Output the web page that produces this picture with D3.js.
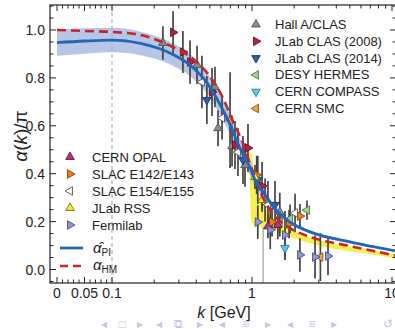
<!DOCTYPE html>
<html><head><meta charset="utf-8">
<script src="https://cdn.jsdelivr.net/npm/d3@7"></script>
<style>
body{margin:0;background:#fff;}
svg{display:block;font-family:"Liberation Sans",Arial,Helvetica,sans-serif;}
</style>
</head><body><svg id="c" width="395" height="329"></svg>
<script>
// ---- curves ----
const piK   = [0, 0.05, 0.1, 0.16, 0.27, 0.36, 0.48, 0.62, 0.7, 0.82, 0.97, 1.05, 1.2, 1.42, 1.87, 2.6, 5.0, 10.7];
const piVal = [0.947, 0.954, 0.958, 0.944, 0.899, 0.854, 0.777, 0.666, 0.603, 0.507, 0.424, 0.374, 0.324, 0.261, 0.198, 0.157, 0.115, 0.077];
const piErr = [0.055, 0.053, 0.051, 0.049, 0.047, 0.046, 0.044, 0.042, 0.04, 0.038, 0.033, 0.029, 0.022, 0.015, 0.01, 0.007, 0.005, 0.004];
const hmK   = [0, 0.05, 0.1, 0.16, 0.27, 0.36, 0.48, 0.62, 0.73, 0.86, 0.98, 1.18, 1.38, 1.87, 2.6, 5.0, 10.7];
const hmVal = [1.0, 0.996, 0.992, 0.979, 0.930, 0.889, 0.820, 0.716, 0.620, 0.528, 0.432, 0.307, 0.240, 0.173, 0.136, 0.098, 0.058];
// yellow systematic band
const ybK  = [0.96, 0.99, 1.04, 1.1, 1.2, 1.35, 1.6, 2.0, 2.6, 4.0, 6.0, 10.7];
const ybLo = [0.44, 0.20, 0.18, 0.18, 0.18, 0.17, 0.15, 0.13, 0.11, 0.085, 0.07, 0.045];
const ybHi = [0.49, 0.49, 0.40, 0.30, 0.27, 0.23, 0.19, 0.16, 0.135, 0.105, 0.088, 0.063];

// ---- data sets: [k, value, error] ----
const hallA   = [[0.231,0.946,0.07],[0.405,0.854,0.08],[0.544,0.762,0.085],[0.572,0.59,0.075],[0.72,0.515,0.085],[0.891,0.436,0.09],[1.24,0.29,0.09],[1.58,0.24,0.08]];
const clas08  = [[0.273,0.99,0.088],[0.321,0.908,0.088],[0.361,0.866,0.09],[0.518,0.741,0.1],[0.756,0.52,0.1],[0.936,0.507,0.1],[1.18,0.349,0.1]];
const clas14  = [[0.476,0.708,0.1],[0.862,0.457,0.1],[1.10,0.374,0.1],[1.46,0.27,0.1]];
const hermes  = [[2.47,0.248,0.04],[1.87,0.211,0.06],[1.58,0.198,0.06]];
const compass = [[1.72,0.09,0.05]];
const smc     = [[0.697,0.624,0.2],[3.08,0.052,0.1]];
const opal    = [[1.53,0.186,0.06],[1.3,0.18,0.05]];
const e142    = [[1.39,0.198,0.06],[2.20,0.223,0.05],[1.84,0.19,0.06],[1.08,0.395,0.08]];
const e154    = [[0.439,0.783,0.11],[0.611,0.633,0.09],[0.794,0.49,0.1],[1.30,0.27,0.1],[2.03,0.236,0.08]];
const rss     = [[1.05,0.386,0.05],[1.18,0.29,0.05]];
const fermi   = [[1.10,0.198,0.07],[1.35,0.165,0.08],[1.72,0.144,0.1],[2.20,0.061,0.07],[2.82,0.052,0.09],[3.49,0.056,0.08]];
const longBars = [[1.2,-0.07,0.18]];

// ---- tick labels ----
const yMajor = [0, 0.2, 0.4, 0.6, 0.8, 1.0];
const yLabels = ["0.0","0.2","0.4","0.6","0.8","1.0"];
const xMajor = [0, 0.05, 0.1, 1, 10];
const xLabels = ["0","0.05","0.1","1","10"];

const series = [
  {name:"Hall A/CLAS", data:hallA, fill:"#8c8c8c", stroke:"#555", rot:0, leg:1},
  {name:"JLab CLAS (2008)", data:clas08, fill:"#b3233f", stroke:"#6a1020", rot:90, leg:1},
  {name:"JLab CLAS (2014)", data:clas14, fill:"#2f5fa8", stroke:"#1a3566", rot:180, leg:1},
  {name:"DESY HERMES", data:hermes, fill:"#a2d48e", stroke:"#4f7a40", rot:-90, leg:1},
  {name:"CERN COMPASS", data:compass, fill:"#5cc8f0", stroke:"#2a7aa0", rot:180, leg:1},
  {name:"CERN SMC", data:smc, fill:"#eaa443", stroke:"#8a5a1a", rot:-90, leg:1},
  {name:"CERN OPAL", data:opal, fill:"#b0397f", stroke:"#60183f", rot:0, leg:2},
  {name:"SLAC E142/E143", data:e142, fill:"#f07a22", stroke:"#8a4010", rot:90, leg:2},
  {name:"SLAC E154/E155", data:e154, fill:"#ffffff", stroke:"#555", rot:-90, leg:2},
  {name:"JLab RSS", data:rss, fill:"#f5e733", stroke:"#807010", rot:0, leg:2},
  {name:"Fermilab", data:fermi, fill:"#9096d2", stroke:"#4a4f80", rot:90, leg:2}
];

const svg = d3.select("#c");
const L = 50, R = 396, T = 5, B = 283;
const xLin = d3.scaleLinear().domain([0, 0.1]).range([57, 112]);
const xLog = d3.scaleLog().domain([0.1, 10]).range([112, 392]);
const X = k => k <= 0.1 ? xLin(k) : xLog(k);
const Y = d3.scaleLinear().domain([0, 1]).range([269.5, 30]);

svg.append("defs").append("clipPath").attr("id","clip")
  .append("rect").attr("x",L).attr("y",T).attr("width",R-L).attr("height",B-T);
const plot = svg.append("g").attr("clip-path","url(#clip)");

// vertical dashed line at k = 0.1
plot.append("line").attr("x1",X(0.1)).attr("x2",X(0.1)).attr("y1",T).attr("y2",B)
  .attr("stroke","#a0a0a0").attr("stroke-width",1).attr("stroke-dasharray","4,3");

// yellow band
const yb = ybK.map((k,i)=>({k, lo:ybLo[i], hi:ybHi[i]}));
plot.append("path").datum(yb)
  .attr("d", d3.area().x(d=>X(d.k)).y0(d=>Y(d.lo)).y1(d=>Y(d.hi)).curve(d3.curveMonotoneX))
  .attr("fill","#f7ec3a").attr("opacity",0.9);

// blue band
const pi = piK.map((k,i)=>({k, v:piVal[i], e:piErr[i]}));
plot.append("path").datum(pi)
  .attr("d", d3.area().x(d=>X(d.k)).y0(d=>Y(d.v-d.e)).y1(d=>Y(d.v+d.e)).curve(d3.curveMonotoneX))
  .attr("fill","#9fb2de").attr("opacity",0.75);

// long thin bars
longBars.forEach(b=>{
  plot.append("line").attr("x1",X(b[0])).attr("x2",X(b[0])).attr("y1",Y(b[1])).attr("y2",Y(b[2]))
    .attr("stroke","#8a8a8a").attr("stroke-width",1);
});

// error bars
series.forEach(s=>{
  plot.append("g").selectAll("line").data(s.data).join("line")
    .attr("x1",d=>X(d[0])).attr("x2",d=>X(d[0]))
    .attr("y1",d=>Y(d[1]-d[2])).attr("y2",d=>Y(d[1]+d[2]))
    .attr("stroke","#444").attr("stroke-width",1.7);
});
// markers
const tri = d3.symbol().type(d3.symbolTriangle).size(32);
series.forEach(s=>{
  plot.append("g").selectAll("path").data(s.data).join("path")
    .attr("d", tri)
    .attr("transform", d=>`translate(${X(d[0])},${Y(d[1])}) rotate(${s.rot})`)
    .attr("fill", s.fill).attr("stroke", s.stroke).attr("stroke-width",0.9);
});

// curves
const line = d3.line().curve(d3.curveMonotoneX);
plot.append("path").attr("d", line(hmK.map((k,i)=>[X(k),Y(hmVal[i])])))
  .attr("fill","none").attr("stroke","#c4262b").attr("stroke-width",2.6).attr("stroke-dasharray","9,5");
plot.append("path").attr("d", line(piK.map((k,i)=>[X(k),Y(piVal[i])])))
  .attr("fill","none").attr("stroke","#2566b4").attr("stroke-width",2.8);

// frame
svg.append("rect").attr("x",L).attr("y",T).attr("width",R-L).attr("height",B-T)
  .attr("fill","none").attr("stroke","#222").attr("stroke-width",1.2);

// y ticks
const yMinor = d3.range(-0.05, 1.11, 0.05).filter(v=>!yMajor.some(m=>Math.abs(m-v)<1e-6));
const axg = svg.append("g").attr("stroke","#222").attr("stroke-width",1);
yMajor.forEach(v=>{
  axg.append("line").attr("x1",L).attr("x2",L+6).attr("y1",Y(v)).attr("y2",Y(v));
  axg.append("line").attr("x1",R).attr("x2",R-6).attr("y1",Y(v)).attr("y2",Y(v));
});
yMinor.forEach(v=>{
  axg.append("line").attr("x1",L).attr("x2",L+3.5).attr("y1",Y(v)).attr("y2",Y(v));
  axg.append("line").attr("x1",R).attr("x2",R-3.5).attr("y1",Y(v)).attr("y2",Y(v));
});
svg.append("g").selectAll("text").data(yMajor).join("text")
  .attr("x",45).attr("y",d=>Y(d)+5).attr("text-anchor","end")
  .attr("font-size",14).attr("fill","#222").text((d,i)=>yLabels[i]);

// x ticks
const xMinor = d3.range(0.01,0.1,0.01).filter(v=>Math.abs(v-0.05)>1e-6)
  .concat(d3.range(2,10).map(i=>i*0.1)).concat(d3.range(2,10));
xMajor.forEach(k=>{
  axg.append("line").attr("x1",X(k)).attr("x2",X(k)).attr("y1",B).attr("y2",B-6);
  axg.append("line").attr("x1",X(k)).attr("x2",X(k)).attr("y1",T).attr("y2",T+6);
});
xMinor.forEach(k=>{
  axg.append("line").attr("x1",X(k)).attr("x2",X(k)).attr("y1",B).attr("y2",B-3.5);
  axg.append("line").attr("x1",X(k)).attr("x2",X(k)).attr("y1",T).attr("y2",T+3.5);
});
svg.append("g").selectAll("text").data(xMajor).join("text")
  .attr("x",d=>X(d)).attr("y",298).attr("text-anchor","middle")
  .attr("font-size",14).attr("fill","#222").text((d,i)=>xLabels[i]);

// axis titles
const yt = svg.append("text").attr("transform","translate(27,136) rotate(-90)")
  .attr("text-anchor","middle").attr("font-size",19).attr("fill","#222");
yt.append("tspan").attr("font-style","italic").text("α");
yt.append("tspan").text("(");
yt.append("tspan").attr("font-style","italic").text("k");
yt.append("tspan").text(")/π");
const xt = svg.append("text").attr("x",224).attr("y",318).attr("text-anchor","middle")
  .attr("font-size",16).attr("fill","#222");
xt.append("tspan").attr("font-style","italic").text("k");
xt.append("tspan").text(" [GeV]");

// legends
const leg1 = series.filter(s=>s.leg===1), leg2 = series.filter(s=>s.leg===2);
function drawLegend(list, mx, tx, y0, dy){
  list.forEach((s,i)=>{
    const y = y0 + i*dy;
    svg.append("path").attr("d", tri)
      .attr("transform",`translate(${mx},${y}) rotate(${s.rot})`)
      .attr("fill", s.fill).attr("stroke", s.stroke).attr("stroke-width",0.9);
    svg.append("text").attr("x",tx).attr("y",y+4.5).attr("font-size",13).attr("fill","#222").text(s.name);
  });
}
drawLegend(leg1, 256, 275, 24.5, 16.8);
drawLegend(leg2, 70, 92, 157, 17);

// curve legend
svg.append("line").attr("x1",60).attr("x2",83).attr("y1",248).attr("y2",248)
  .attr("stroke","#2566b4").attr("stroke-width",2.8);
svg.append("line").attr("x1",60).attr("x2",83).attr("y1",266).attr("y2",266)
  .attr("stroke","#c4262b").attr("stroke-width",2.6).attr("stroke-dasharray","8,5");
const t1 = svg.append("text").attr("x",93).attr("y",253).attr("font-size",15).attr("fill","#222");
t1.append("tspan").attr("font-style","italic").text("α\u0302");
t1.append("tspan").attr("font-size",10).attr("dy",3).text("PI");
const t2 = svg.append("text").attr("x",93).attr("y",270).attr("font-size",15).attr("fill","#222");
t2.append("tspan").attr("font-style","italic").text("α");
t2.append("tspan").attr("font-size",10).attr("dy",3).text("HM");

// beamer navigation symbols
const navSyms = ["◂","□","▸","◂","⧉","▸","◂","≡","▸","◂","≡","▸","↺"];
const navX = [104,122,140,159,178,200,222,246,268,290,312,334,388];
svg.append("g").selectAll("text").data(navSyms).join("text")
  .attr("x",(d,i)=>navX[i]).attr("y",328).attr("text-anchor","middle")
  .attr("font-size",12).attr("fill","#c4c4e8").text(d=>d);
</script></body></html>
